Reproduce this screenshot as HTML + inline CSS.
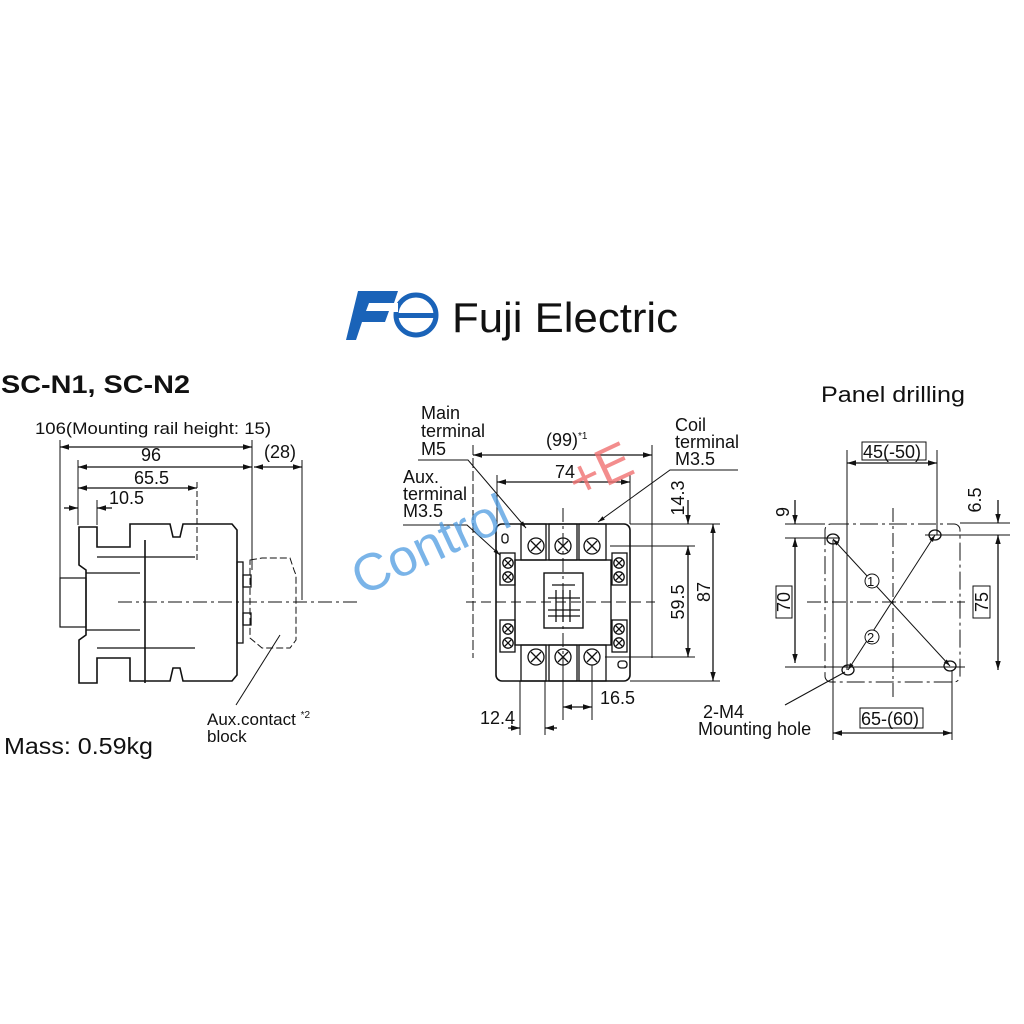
<!DOCTYPE html>
<html><head><meta charset="utf-8"><style>
html,body{margin:0;padding:0;background:#fff}
svg{display:block}
text{font-family:"Liberation Sans",Arial,sans-serif;fill:#111}
</style></head><body>
<svg width="1024" height="1024" viewBox="0 0 1024 1024" xmlns="http://www.w3.org/2000/svg">
<defs>
<marker id="a" viewBox="0 0 10 10" refX="10" refY="5" markerWidth="7" markerHeight="7" orient="auto-start-reverse"><path d="M0,2 L10,5 L0,8 z" fill="#111"/></marker>
<g id="scr"><circle r="8"/><path d="M-5,-5 L5,5 M5,-5 L-5,5"/></g>
<g id="ss"><circle r="5.2"/><path d="M-3.3,-3.3 L3.3,3.3 M3.3,-3.3 L-3.3,3.3"/></g>
</defs>
<rect width="1024" height="1024" fill="#fff"/>

<!-- Logo -->
<circle cx="416" cy="315" r="20" fill="none" stroke="#1a63b8" stroke-width="5"/>
<rect x="396" y="313" width="40" height="5" fill="#1a63b8"/>
<rect x="370" y="303" width="28" height="9" fill="#fff"/>
<path d="M358,291 L398,291 L394,303 L369,303 L366,311 L389,311 L385,322 L362,322 L356,340 L346,340 Z" fill="#1a63b8"/>
<text x="452" y="332" font-size="42" textLength="226" lengthAdjust="spacingAndGlyphs" fill="#222">Fuji Electric</text>

<text x="1" y="393" font-size="25" font-weight="bold" textLength="189" lengthAdjust="spacingAndGlyphs">SC-N1, SC-N2</text>

<g stroke="#111" stroke-width="1.3" fill="none">
<line x1="60" y1="447" x2="252" y2="447" marker-start="url(#a)" marker-end="url(#a)"/>
<line x1="78" y1="467" x2="252" y2="467" marker-start="url(#a)" marker-end="url(#a)"/>
<line x1="254" y1="467" x2="302" y2="467" marker-start="url(#a)" marker-end="url(#a)"/>
<line x1="78" y1="488" x2="197" y2="488" marker-start="url(#a)" marker-end="url(#a)"/>
<line x1="64" y1="508" x2="78" y2="508" marker-end="url(#a)"/>
<line x1="112" y1="508" x2="97" y2="508" marker-end="url(#a)"/>
<line x1="60" y1="440" x2="60" y2="627" stroke-width="1"/>
<line x1="78" y1="460" x2="78" y2="525" stroke-width="1"/>
<line x1="97" y1="500" x2="97" y2="525" stroke-width="1"/>
<line x1="197" y1="482" x2="197" y2="560" stroke-dasharray="6,3" stroke-width="1"/>
<line x1="252" y1="440" x2="252" y2="570" stroke-width="1"/>
<line x1="302" y1="460" x2="302" y2="600" stroke-width="1"/>
<path d="M79,527 L97,527 L97,547 L130,547 L130,524 L170,524 L173,537 L180,537 L183,524 L232,524 L237,530 L237,675 L232,681 L183,681 L180,668 L173,668 L170,681 L130,681 L130,658 L97,658 L97,683 L79,683 L79,640 L86,635 L86,570 L79,565 Z" stroke-width="1.6"/>
<line x1="97" y1="557" x2="195" y2="557"/>
<line x1="97" y1="648" x2="195" y2="648"/>
<line x1="145" y1="540" x2="145" y2="683" stroke-width="1.6"/>
<line x1="86" y1="573" x2="140" y2="573"/>
<line x1="86" y1="630" x2="140" y2="630"/>
<rect x="60" y="578" width="26" height="49" stroke-width="1.2"/>
<rect x="237" y="562" width="6" height="81"/>
<rect x="243" y="575" width="8" height="12"/>
<rect x="243" y="613" width="8" height="12"/>
<path d="M250,560 L262,558 L290,558 L294,570 L296,575 L296,640 L290,648 L262,648 L250,638 Z" stroke-dasharray="7,3" stroke-width="1"/>
<line x1="118" y1="602" x2="360" y2="602" stroke-dasharray="14,4,3,4" stroke-width="1"/>
<line x1="236" y1="705" x2="280" y2="635" stroke-width="1"/>

<!-- MIDDLE VIEW -->
<line x1="473" y1="455" x2="652" y2="455" marker-start="url(#a)" marker-end="url(#a)"/>
<line x1="473" y1="445" x2="473" y2="658" stroke-width="1" stroke-dasharray="10,3"/>
<line x1="652" y1="445" x2="652" y2="658" stroke-width="1"/>
<line x1="497" y1="482" x2="630" y2="482" marker-start="url(#a)" marker-end="url(#a)"/>
<line x1="497" y1="475" x2="497" y2="524" stroke-width="1"/>
<line x1="630" y1="475" x2="630" y2="524" stroke-width="1"/>
<rect x="496" y="524" width="134" height="157" rx="6" stroke-width="1.6"/>
<rect x="515" y="560" width="96" height="85" stroke-width="1.4"/>
<rect x="544" y="573" width="39" height="55" stroke-width="1.4"/>
<line x1="552" y1="585" x2="575" y2="585"/><line x1="548" y1="598" x2="580" y2="598"/><line x1="548" y1="610" x2="580" y2="610"/>
<line x1="556" y1="590" x2="556" y2="622"/><line x1="563" y1="590" x2="563" y2="622"/><line x1="570" y1="590" x2="570" y2="622"/>
<line x1="548" y1="616" x2="580" y2="616"/>
<rect x="521" y="524" width="25" height="36"/><rect x="549" y="524" width="28" height="36"/><rect x="579" y="524" width="27" height="36"/>
<rect x="521" y="645" width="25" height="36"/><rect x="549" y="645" width="28" height="36"/><rect x="579" y="645" width="27" height="36"/>
<rect x="500" y="553" width="15" height="32"/><rect x="500" y="620" width="15" height="32"/>
<rect x="612" y="553" width="15" height="32"/><rect x="612" y="620" width="15" height="32"/>
<rect x="502" y="534" width="6" height="9" rx="3"/><rect x="618" y="661" width="9" height="7" rx="3"/>
<use href="#scr" x="536" y="546"/><use href="#scr" x="563" y="546"/><use href="#scr" x="592" y="546"/>
<use href="#scr" x="536" y="657"/><use href="#scr" x="563" y="657"/><use href="#scr" x="592" y="657"/>
<use href="#ss" x="508" y="563"/><use href="#ss" x="508" y="577"/><use href="#ss" x="508" y="629"/><use href="#ss" x="508" y="643"/>
<use href="#ss" x="619" y="563"/><use href="#ss" x="619" y="577"/><use href="#ss" x="619" y="629"/><use href="#ss" x="619" y="643"/>
<line x1="466" y1="602" x2="655" y2="602" stroke-dasharray="10,5" stroke-width="1"/>
<line x1="563" y1="508" x2="563" y2="700" stroke-dasharray="14,4,3,4" stroke-width="1"/>
<line x1="630" y1="524" x2="720" y2="524" stroke-width="1"/>
<line x1="610" y1="546" x2="695" y2="546" stroke-width="1"/>
<line x1="605" y1="657" x2="695" y2="657" stroke-width="1"/>
<line x1="630" y1="681" x2="720" y2="681" stroke-width="1"/>
<line x1="688" y1="500" x2="688" y2="524" marker-end="url(#a)"/>
<line x1="688" y1="546" x2="688" y2="657" marker-start="url(#a)" marker-end="url(#a)"/>
<line x1="713" y1="524" x2="713" y2="681" marker-start="url(#a)" marker-end="url(#a)"/>
<line x1="520" y1="681" x2="520" y2="735" stroke-width="1"/>
<line x1="545" y1="681" x2="545" y2="735" stroke-width="1"/>
<line x1="508" y1="728" x2="520" y2="728" marker-end="url(#a)"/>
<line x1="557" y1="728" x2="545" y2="728" marker-end="url(#a)"/>
<line x1="563" y1="665" x2="563" y2="720" stroke-width="1"/>
<line x1="592" y1="665" x2="592" y2="720" stroke-width="1"/>
<line x1="563" y1="707" x2="592" y2="707" marker-start="url(#a)" marker-end="url(#a)"/>
<polyline points="418,460 468,460 526,528" stroke-width="1" marker-end="url(#a)"/>
<polyline points="403,525 467,525 500,555" stroke-width="1" marker-end="url(#a)"/>
<polyline points="738,470 670,470 598,522" stroke-width="1" marker-end="url(#a)"/>

<!-- RIGHT -->
<line x1="847" y1="463" x2="937" y2="463" marker-start="url(#a)" marker-end="url(#a)"/>
<line x1="847" y1="450" x2="847" y2="670" stroke-width="1"/>
<line x1="937" y1="450" x2="937" y2="535" stroke-width="1"/>
<rect x="825" y="524" width="135" height="158" rx="6" stroke-dasharray="18,4,3,4" stroke-width="1"/>
<line x1="893" y1="508" x2="893" y2="698" stroke-dasharray="14,4,3,4" stroke-width="1"/>
<line x1="807" y1="602" x2="965" y2="602" stroke-dasharray="14,4,3,4" stroke-width="1"/>
<ellipse cx="833" cy="539" rx="6" ry="5"/><ellipse cx="935" cy="535" rx="6" ry="5"/>
<ellipse cx="848" cy="670" rx="6" ry="5"/><ellipse cx="950" cy="666" rx="6" ry="5"/>
<line x1="833" y1="539" x2="950" y2="666" stroke-width="1" marker-start="url(#a)" marker-end="url(#a)"/>
<line x1="848" y1="670" x2="935" y2="535" stroke-width="1" marker-start="url(#a)" marker-end="url(#a)"/>
<circle cx="872" cy="581" r="7" fill="#fff" stroke-width="1"/>
<circle cx="872" cy="637" r="7" fill="#fff" stroke-width="1"/>
<line x1="785" y1="524" x2="825" y2="524" stroke-width="1"/>
<line x1="785" y1="538" x2="840" y2="538" stroke-width="1"/>
<line x1="785" y1="667" x2="965" y2="667" stroke-width="1"/>
<line x1="795" y1="500" x2="795" y2="524" marker-end="url(#a)"/>
<line x1="795" y1="538" x2="795" y2="663" marker-start="url(#a)" marker-end="url(#a)"/>
<line x1="960" y1="523" x2="1010" y2="523" stroke-width="1"/>
<line x1="925" y1="535" x2="1010" y2="535" stroke-width="1"/>
<line x1="998" y1="500" x2="998" y2="523" marker-end="url(#a)"/>
<line x1="998" y1="535" x2="998" y2="670" marker-start="url(#a)" marker-end="url(#a)"/>
<line x1="833" y1="540" x2="833" y2="740" stroke-width="1"/>
<line x1="952" y1="670" x2="952" y2="740" stroke-width="1"/>
<line x1="833" y1="733" x2="952" y2="733" marker-start="url(#a)" marker-end="url(#a)"/>
<line x1="785" y1="705" x2="845" y2="672" stroke-width="1"/>
<rect x="862" y="442" width="64" height="18" stroke-width="1"/>
<rect x="860" y="708" width="63" height="20" stroke-width="1"/>
<rect x="776" y="586" width="16" height="32" stroke-width="1"/>
<rect x="973" y="586" width="17" height="32" stroke-width="1"/>
</g>

<g font-size="17">
<text x="35" y="434" textLength="236" lengthAdjust="spacingAndGlyphs">106(Mounting rail height: 15)</text>
<text x="141" y="461" font-size="18">96</text>
<text x="264" y="458" font-size="18">(28)</text>
<text x="134" y="484" font-size="18">65.5</text>
<text x="109" y="504" font-size="18">10.5</text>
<text x="207" y="725">Aux.contact <tspan font-size="10" dy="-7">*2</tspan></text>
<text x="207" y="742">block</text>
</g>
<text x="4" y="754" font-size="23" textLength="149" lengthAdjust="spacingAndGlyphs">Mass: 0.59kg</text>

<g font-size="18">
<text x="421" y="419">Main</text><text x="421" y="437">terminal</text><text x="421" y="455">M5</text>
<text x="403" y="483">Aux.</text><text x="403" y="500">terminal</text><text x="403" y="517">M3.5</text>
<text x="675" y="431">Coil</text><text x="675" y="448">terminal</text><text x="675" y="465">M3.5</text>
<text x="546" y="446">(99)<tspan font-size="10" dy="-7">*1</tspan></text>
<text x="555" y="478">74</text>
<text x="480" y="724">12.4</text>
<text x="600" y="704">16.5</text>
<text transform="translate(684,498) rotate(-90)" text-anchor="middle">14.3</text>
<text transform="translate(684,602) rotate(-90)" text-anchor="middle">59.5</text>
<text transform="translate(710,592) rotate(-90)" text-anchor="middle">87</text>
</g>

<text x="821" y="402" font-size="22" textLength="144" lengthAdjust="spacingAndGlyphs">Panel drilling</text>
<g font-size="18">
<text x="863" y="458">45(-50)</text>
<text x="861" y="725">65-(60)</text>
<text transform="translate(790,602) rotate(-90)" text-anchor="middle">70</text>
<text transform="translate(988,602) rotate(-90)" text-anchor="middle">75</text>
<text transform="translate(789,512) rotate(-90)" text-anchor="middle">9</text>
<text transform="translate(981,500) rotate(-90)" text-anchor="middle">6.5</text>
<text x="703" y="718">2-M4</text>
<text x="698" y="735">Mounting hole</text>
<text x="867" y="586" font-size="13">1</text>
<text x="867" y="642" font-size="13">2</text>
</g>

<text transform="translate(362,596) rotate(-25)" font-size="52" style="fill:#4d9be0;fill-opacity:0.75">Control</text>
<text transform="translate(578,500) rotate(-25)" font-size="52" style="fill:#f07070;fill-opacity:0.8">+E</text>
</svg>
</body></html>
